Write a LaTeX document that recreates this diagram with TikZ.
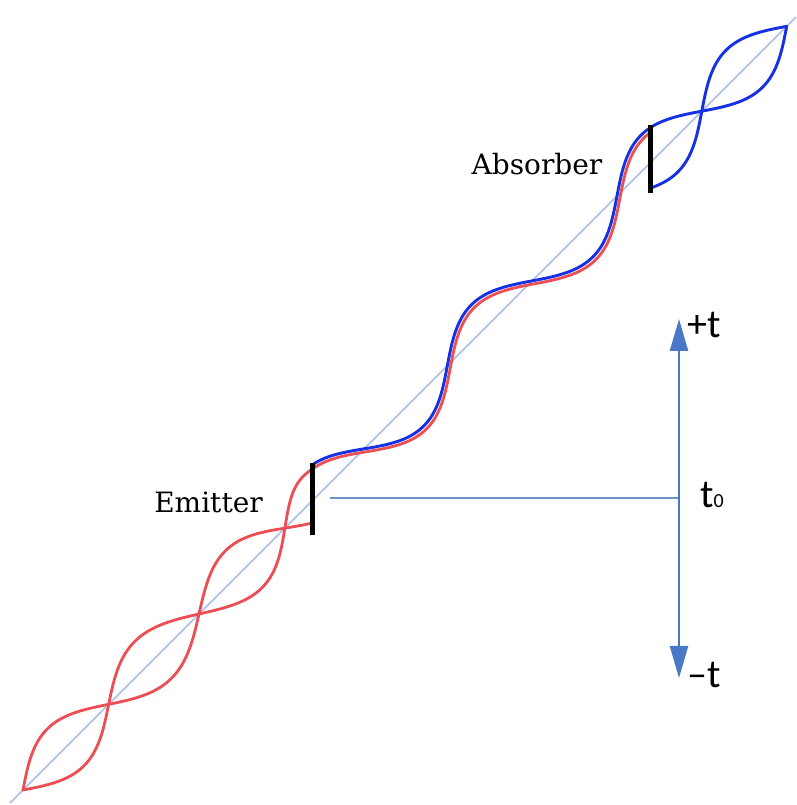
\documentclass[tikz,border=0pt]{standalone}
\usepackage{fontspec}
\newfontfamily\calib{Carlito}
\newfontfamily\serifdv{DejaVu Serif}
\usetikzlibrary{arrows.meta}
\definecolor{axisblue}{RGB}{182,200,232}
\definecolor{wavered}{RGB}{236,78,84}
\definecolor{waveblue}{RGB}{22,48,228}
\definecolor{arrblue}{RGB}{72,120,198}
\definecolor{hlblue}{RGB}{110,146,204}
\tikzset{
  declare function={
    dl(\s)=12*exp(-min(9,((\s-320)/130)^2));
    ph(\s)=1.5*(\s-dl(\s));
    ws(\s)=1/(1+exp(max(-9,min(9,(420-\s)/8))));
    nb(\s)=-26*sin(ph(\s));
    nr(\s)=-26*sin(ph(\s))-4*ws(\s);
    np(\s)=26*sin(ph(\s));
    px(\s,\n)=23+(\s-\n)*0.70711;
    py(\s,\n)=15+(\s+\n)*0.70711;
  },
  axisline/.style={draw=axisblue,line width=1.8pt},
  redw/.style={draw=wavered,line width=2.8pt,line cap=round},
  bluew/.style={draw=waveblue,line width=2.9pt,line cap=round},
  barline/.style={draw=black,line width=5pt},
  timearrow/.style={draw=arrblue,line width=2.4pt,{Triangle[length=32pt,width=18pt]}-{Triangle[length=32pt,width=18pt]}},
  tline/.style={draw=hlblue,line width=1.8pt},
  serlab/.style={inner sep=0pt,font=\serifdv\fontsize{28}{32}\selectfont},
  sanslab/.style={inner sep=0pt,font=\calib\fontsize{40}{44}\selectfont},
}
\begin{document}
\begin{tikzpicture}[x=1pt,y=1pt]
\useasboundingbox (0,0) rectangle (796,805);
\fill[white] (0,0) rectangle (796,805);
% axis
\coordinate (ax0) at (10,2);
\coordinate (ax1) at (796,788);
\draw[axisline] (ax0) -- (ax1);
% red waves
\begin{scope}
  \clip (0,0) rectangle (312,805);
  \draw[redw] plot[domain=0:400,samples=220,variable=\s] ({px(\s,np(\s))},{py(\s,np(\s))});
\end{scope}
\begin{scope}
  \clip (0,0) rectangle (650,805);
  \draw[redw] plot[domain=0:915,samples=450,variable=\s] ({px(\s,nr(\s))},{py(\s,nr(\s))});
\end{scope}
% blue waves
\begin{scope}
  \clip (312,0) rectangle (796,805);
  \draw[bluew] plot[domain=425:1080,samples=380,variable=\s] ({px(\s,nb(\s))},{py(\s,nb(\s))});
\end{scope}
\begin{scope}
  \clip (650,0) rectangle (796,805);
  \draw[bluew] plot[domain=860:1080,samples=140,variable=\s] ({px(\s,np(\s))},{py(\s,np(\s))});
\end{scope}
% bars
\coordinate (em0) at (312,270);
\coordinate (em1) at (312,342);
\coordinate (ab0) at (650,612);
\coordinate (ab1) at (650,680);
\draw[barline] (em0) -- (em1);
\draw[barline] (ab0) -- (ab1);
% time axis
\coordinate (tp) at (679,486);
\coordinate (tm) at (679,127);
\coordinate (tz) at (679,307);
\coordinate (tl) at (330,307);
\draw[tline] (tl) -- (tz);
\draw[timearrow] (tm) -- (tp);
% labels
\node[serlab,anchor=base] (emit) at (208.5,292) {Emitter};
\node[serlab,anchor=base] (absb) at (537,630) {Absorber};
\node[sanslab,anchor=base west] (tplus) at (687,467) {+t};
\node[sanslab,anchor=base west] (tzero) at (700,297) {t{\fontsize{20}{20}\selectfont 0}};
\node[sanslab,anchor=base west] (tminus) at (687,117) {–t};
\end{tikzpicture}
\end{document}
